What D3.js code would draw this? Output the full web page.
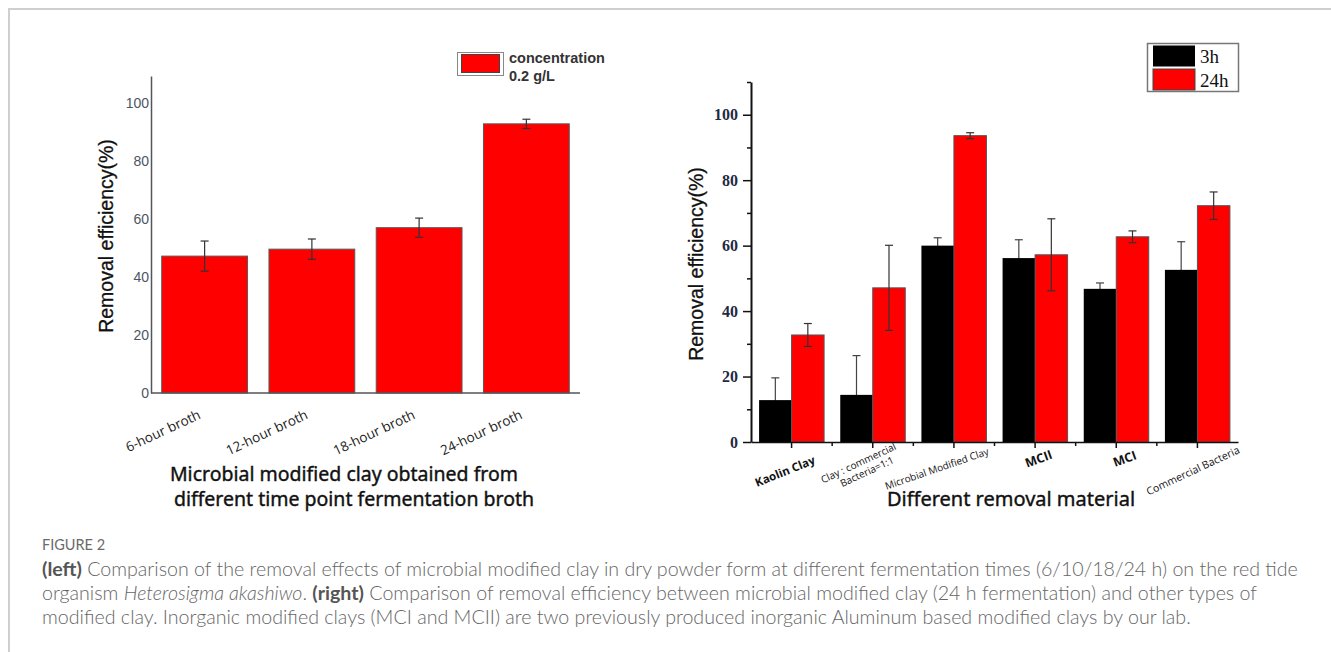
<script src="https://d3js.org/d3.v7.min.js"></script>
<style>
  body { margin: 0; background: #fff; }
</style>
<svg id="vis"></svg>
<script>
// ---- left panel data ----
var leftCats = ["6-hour broth", "12-hour broth", "18-hour broth", "24-hour broth"];
var leftVals = [47.2, 49.6, 57.0, 92.8];
var leftErr = [5.2, 3.5, 3.3, 1.6];
var leftTicks = [0, 20, 40, 60, 80, 100];

// ---- right panel data ----
var rightCats = ["Kaolin Clay", "Clay : commercial|Bacteria=1:1", "Microbial Modified Clay", "MCII", "MCI", "Commercial Bacteria"];
var vals3h = [12.8, 14.4, 60.0, 56.2, 46.8, 52.6];
var err3h = [6.8, 12.0, 2.4, 5.6, 1.8, 8.6];
var vals24h = [32.7, 47.1, 93.6, 57.2, 62.7, 72.2];
var err24h = [3.5, 13.0, 0.9, 11.0, 1.8, 4.2];
var rightTicks = [0, 20, 40, 60, 80, 100];
var rightMinor = [10, 30, 50, 70, 90, 110];
var seriesNames = ["3h", "24h"];

var svg = d3.select("#vis").attr("width", 1331).attr("height", 652);

// figure frame (only top and left edges show)
svg.append("path").attr("d", "M9,652 V9 H1331").attr("fill", "none").attr("stroke", "#cfcfcf").attr("stroke-width", 2);

// error bar helper
function errBars(g, xs, vals, errs, yS, cap, col) {
  vals.forEach(function(v, i) {
    var x = xs[i];
    g.append("line").attr("x1", x).attr("x2", x).attr("y1", yS(v - errs[i])).attr("y2", yS(v + errs[i]))
      .attr("stroke", col).attr("stroke-width", 1.2);
    [v - errs[i], v + errs[i]].forEach(function(e) {
      g.append("line").attr("x1", x - cap).attr("x2", x + cap).attr("y1", yS(e)).attr("y2", yS(e))
        .attr("stroke", col).attr("stroke-width", 1.2);
    });
  });
}

// ================= LEFT CHART =================
var yL = d3.scaleLinear().domain([0, 109.3]).range([393, 76]);
var xL = d3.scaleBand().domain(leftCats).range([151, 580]).paddingInner(0.2).paddingOuter(0.1);

var gL = svg.append("g");

gL.selectAll(".barL").data(leftVals).join("rect")
  .attr("x", function(d, i) { return xL(leftCats[i]); })
  .attr("y", function(d) { return yL(d); })
  .attr("width", xL.bandwidth())
  .attr("height", function(d) { return yL(0) - yL(d); })
  .attr("fill", "#ff0000").attr("stroke", "#5a5a5a").attr("stroke-width", 1);

errBars(gL, leftCats.map(function(c) { return xL(c) + xL.bandwidth() / 2; }), leftVals, leftErr, yL, 4, "#333");

// y axis
var axL = gL.append("g").attr("transform", "translate(151,0)")
  .call(d3.axisLeft(yL).tickValues(leftTicks).tickSize(0).tickPadding(2));
axL.select(".domain").attr("stroke", "#555").attr("stroke-width", 1.5);
axL.selectAll("text").attr("font-family", "Liberation Sans, Arial").attr("font-size", 14).attr("fill", "#4b5563");

// x axis line
gL.append("line").attr("x1", 151).attr("x2", 580).attr("y1", 393).attr("y2", 393)
  .attr("stroke", "#555").attr("stroke-width", 1.5);

// x tick labels
gL.selectAll(".xlabL").data(leftCats).join("text")
  .attr("transform", function(d) { return "translate(" + (xL(d) + xL.bandwidth() / 2 - 3) + ",418) rotate(-25)"; })
  .attr("text-anchor", "end")
  .attr("font-family", "Open Sans, sans-serif").attr("font-size", 13.5).attr("fill", "#222")
  .text(function(d) { return d; });

// axis titles
gL.append("text").attr("transform", "translate(113,236) rotate(-90)").attr("text-anchor", "middle")
  .attr("font-family", "Liberation Sans, Arial").attr("font-size", 19.5).attr("fill", "#111")
  .attr("stroke", "#111").attr("stroke-width", 0.3)
  .text("Removal efficiency(%)");
gL.append("text").attr("x", 344).attr("y", 481).attr("text-anchor", "middle")
  .attr("font-family", "Noto Sans, sans-serif").attr("font-size", 19.5).attr("fill", "#111")
  .attr("stroke", "#111").attr("stroke-width", 0.4)
  .text("Microbial modified clay obtained from");
gL.append("text").attr("x", 354).attr("y", 506).attr("text-anchor", "middle")
  .attr("font-family", "Noto Sans, sans-serif").attr("font-size", 19.5).attr("fill", "#111")
  .attr("stroke", "#111").attr("stroke-width", 0.4)
  .text("different time point fermentation broth");

// legend
gL.append("rect").attr("x", 457.5).attr("y", 52.5).attr("width", 46).attr("height", 23)
  .attr("fill", "none").attr("stroke", "#888").attr("stroke-width", 1);
gL.append("rect").attr("x", 461.5).attr("y", 54.5).attr("width", 38).attr("height", 18)
  .attr("fill", "#ff0000").attr("stroke", "#444").attr("stroke-width", 1);
gL.append("text").attr("x", 509).attr("y", 63).attr("font-family", "Liberation Sans, Arial")
  .attr("font-size", 14.5).attr("font-weight", "bold").attr("fill", "#333").text("concentration");
gL.append("text").attr("x", 509).attr("y", 81).attr("font-family", "Liberation Sans, Arial")
  .attr("font-size", 14.5).attr("font-weight", "bold").attr("fill", "#333").text("0.2 g/L");

// ================= RIGHT CHART =================
var yR = d3.scaleLinear().domain([0, 110]).range([442, 82]);
var xR = d3.scaleBand().domain(rightCats).range([751, 1238]);
var bw = 32.5;
var gR = svg.append("g");

// 3h error bars sit behind the black bars (only the upper half shows)
errBars(gR, rightCats.map(function(c) { return xR(c) + xR.bandwidth() / 2 - bw / 2; }), vals3h, err3h, yR, 4, "#444");

gR.selectAll(".b3").data(vals3h).join("rect")
  .attr("x", function(d, i) { return xR(rightCats[i]) + xR.bandwidth() / 2 - bw; })
  .attr("y", function(d) { return yR(d); })
  .attr("width", bw).attr("height", function(d) { return yR(0) - yR(d); })
  .attr("fill", "#000");
gR.selectAll(".b24").data(vals24h).join("rect")
  .attr("x", function(d, i) { return xR(rightCats[i]) + xR.bandwidth() / 2; })
  .attr("y", function(d) { return yR(d); })
  .attr("width", bw).attr("height", function(d) { return yR(0) - yR(d); })
  .attr("fill", "#ff0000").attr("stroke", "#555").attr("stroke-width", 1);

errBars(gR, rightCats.map(function(c) { return xR(c) + xR.bandwidth() / 2 + bw / 2; }), vals24h, err24h, yR, 4, "#333");

// y axis with minor ticks
var axRm = gR.append("g").attr("transform", "translate(751,0)")
  .call(d3.axisLeft(yR).tickValues(rightMinor).tickSize(4).tickSizeOuter(0).tickFormat(""));
axRm.select(".domain").remove();
axRm.selectAll("line").attr("stroke", "#111").attr("stroke-width", 1.5);
var axR = gR.append("g").attr("transform", "translate(751,0)")
  .call(d3.axisLeft(yR).tickValues(rightTicks).tickSize(8).tickSizeOuter(0).tickPadding(5));
axR.select(".domain").attr("stroke", "#111").attr("stroke-width", 2);
axR.selectAll("line").attr("stroke", "#111").attr("stroke-width", 1.5);
axR.selectAll("text").attr("font-family", "Liberation Serif, Times New Roman, serif")
  .attr("font-weight", "bold").attr("font-size", 16).attr("fill", "#1e2a44");

// x axis: major ticks at categories, minor at boundaries
var axRx = gR.append("g").attr("transform", "translate(0,442)")
  .call(d3.axisBottom(xR).tickSize(6).tickSizeOuter(0).tickFormat(""));
axRx.select(".domain").attr("stroke", "#111").attr("stroke-width", 1.5);
axRx.selectAll("line").attr("stroke", "#111").attr("stroke-width", 1.5);
var bounds = rightCats.slice(1).map(function(c) { return xR(c); });
gR.selectAll(".minx").data(bounds).join("line")
  .attr("x1", function(d) { return d; }).attr("x2", function(d) { return d; })
  .attr("y1", 442).attr("y2", 446).attr("stroke", "#111").attr("stroke-width", 1.5);

// x tick labels (label offset / style per category)
var labStyle = [
  { dx: -5, dy: 33, rot: -22, size: 11.5, weight: "bold" },
  { dx: -12, dy: 26, rot: -25, size: 10, weight: "normal" },
  { dx: -16, dy: 30, rot: -19, size: 10, weight: "normal" },
  { dx: 5, dy: 21, rot: -20, size: 12.5, weight: "bold" },
  { dx: 10, dy: 21, rot: -20, size: 12.5, weight: "bold" },
  { dx: -3, dy: 32, rot: -25, size: 10.5, weight: "normal" }
];
rightCats.forEach(function(c, i) {
  var s = labStyle[i];
  var cx = xR(c) + xR.bandwidth() / 2 + s.dx;
  var t = gR.append("text").attr("transform", "translate(" + cx + "," + (442 + s.dy) + ") rotate(" + s.rot + ")")
    .attr("text-anchor", "middle").attr("font-family", "Open Sans, sans-serif")
    .attr("font-size", s.size).attr("font-weight", s.weight).attr("fill", "#111");
  var parts = c.split("|");
  parts.forEach(function(p, j) {
    t.append("tspan").attr("x", j === 0 ? 0 : 4).attr("dy", j === 0 ? (parts.length > 1 ? "-0.2em" : 0) : "1.15em").text(p);
  });
});

// axis titles
gR.append("text").attr("transform", "translate(703,264) rotate(-90)").attr("text-anchor", "middle")
  .attr("font-family", "Liberation Sans, Arial").attr("font-size", 19.5).attr("fill", "#111")
  .attr("stroke", "#111").attr("stroke-width", 0.3)
  .text("Removal efficiency(%)");
gR.append("text").attr("x", 1011).attr("y", 506).attr("text-anchor", "middle")
  .attr("font-family", "Noto Sans, sans-serif").attr("font-size", 20).attr("fill", "#111")
  .attr("stroke", "#111").attr("stroke-width", 0.4)
  .text("Different removal material");

// legend
gR.append("rect").attr("x", 1147.5).attr("y", 43.5).attr("width", 91).attr("height", 48)
  .attr("fill", "#fff").attr("stroke", "#777").attr("stroke-width", 1.5);
var legCols = ["#000", "#ff0000"];
seriesNames.forEach(function(n, i) {
  gR.append("rect").attr("x", 1153).attr("y", 45.5 + i * 23.5).attr("width", 42).attr("height", 21)
    .attr("fill", legCols[i]).attr("stroke", i ? "#444" : "none");
  gR.append("text").attr("x", 1200).attr("y", 63 + i * 23.5)
    .attr("font-family", "Liberation Serif, Times New Roman, serif").attr("font-size", 19).attr("fill", "#111").text(n);
});

// ================= CAPTION =================
var cap = svg.append("g").attr("font-family", "Lato, sans-serif").attr("fill", "#666");
cap.append("text").attr("x", 42).attr("y", 550).attr("font-size", 14.5).attr("fill", "#6a6a6a").text("FIGURE 2");
var lines = [
  [["(left)", "b"], [" Comparison of the removal effects of microbial modified clay in dry powder form at different fermentation times (6/10/18/24 h) on the red tide", ""]],
  [["organism ", ""], ["Heterosigma akashiwo", "i"], [". ", ""], ["(right)", "b"], [" Comparison of removal efficiency between microbial modified clay (24 h fermentation) and other types of", ""]],
  [["modified clay. Inorganic modified clays (MCI and MCII) are two previously produced inorganic Aluminum based modified clays by our lab.", ""]]
];
var capLines = lines.map(function(parts, k) {
  var t = cap.append("text").attr("x", 42).attr("y", 576 + k * 23.8).attr("font-size", 16).attr("font-weight", 300);
  parts.forEach(function(p) {
    var ts = t.append("tspan").text(p[0]);
    if (p[1] === "b") ts.attr("font-weight", "bold").attr("fill", "#555");
    if (p[1] === "i") ts.attr("font-style", "italic");
  });
  return t;
});
// fit font size so first line spans the same width as in the figure
var w0 = capLines[0].node().getComputedTextLength();
var fs = 16 * 1257 / w0;
capLines.forEach(function(t) { t.attr("font-size", fs); });
</script>
